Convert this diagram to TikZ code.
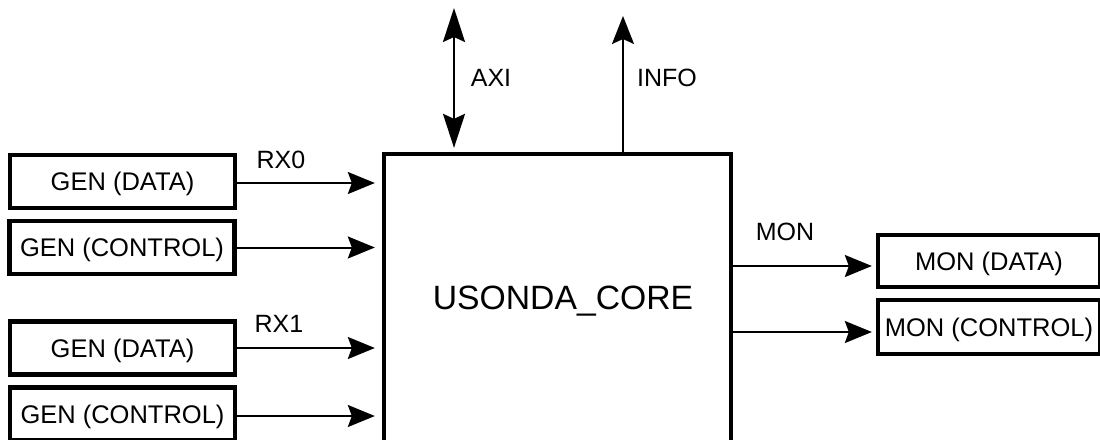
\documentclass[tikz,border=0pt]{standalone}
\usepackage{fontspec}
\setmainfont{Liberation Sans}
\usetikzlibrary{arrows.meta}
\begin{document}
\begin{tikzpicture}[x=1pt,y=-1pt,
  blk/.style={draw, line width=4.3pt, inner sep=0pt,
    font=\fontsize{25.5}{30}\selectfont, text height=18.3pt, text depth=0pt,
    minimum width=225pt, minimum height=53pt},
  corebox/.style={draw, line width=4.3pt, inner sep=0pt,
    minimum width=347pt, minimum height=291pt},
  lbl/.style={font=\fontsize{25}{30}\selectfont, text height=17.9pt, text depth=0pt, inner sep=0pt},
  corelbl/.style={font=\fontsize{33.7}{40}\selectfont, text height=24.1pt, text depth=0pt, inner sep=0pt},
  arr/.style={line width=2pt, -{Stealth[length=27pt,width=22pt,inset=4pt]}},
  uparr/.style={line width=2pt, -{Stealth[length=28pt,width=22pt,inset=5pt]}},
  dblarr/.style={line width=2.2pt, {Stealth[length=34pt,width=22pt,inset=5pt]}-{Stealth[length=34pt,width=22pt,inset=5pt]}}
]
\useasboundingbox (0,0) rectangle (1100,439);
\fill[white] (0,0) rectangle (1100,439);

% left generator boxes
\node[blk] (g1) at (122.5,181.5) {GEN (DATA)};
\node[blk] (g2) at (122,247.5) {GEN (CONTROL)};
\node[blk] (g3) at (122.5,348) {GEN (DATA)};
\node[blk] (g4) at (122.5,414) {GEN (CONTROL)};

% core
\node[corebox] (core) at (557.5,299.5) {};
\node[corelbl] (coretext) at (563,297.5) {USONDA\_CORE};

% monitor boxes
\node[blk, minimum width=222pt, minimum height=52pt] (m1) at (989,261) {MON (DATA)};
\node[blk, minimum width=222pt, minimum height=54pt] (m2) at (989,327) {MON (CONTROL)};

% input arrows
\draw[arr, shorten >=7pt] ([yshift=-1.5pt]g1.east) -- ([yshift=-1.5pt]g1.east -| core.west);
\draw[arr, shorten >=7pt] (g2.east) -- (g2.east -| core.west);
\draw[arr, shorten >=7pt] (g3.east) -- (g3.east -| core.west);
\draw[arr, shorten >=7pt] ([yshift=-2pt]g4.east) -- ([yshift=-2pt]g4.east -| core.west);

% output arrows
\draw[arr, shorten >=4pt] ([yshift=-5pt]m1.west -| core.east) -- ([yshift=-5pt]m1.west);
\draw[arr, shorten >=4pt] ([yshift=-5pt]m2.west -| core.east) -- ([yshift=-5pt]m2.west);

% top arrows
\coordinate (axitop) at (454,8);
\coordinate (infotop) at (623,16);
\draw[dblarr, shorten >=4pt] (axitop) -- (axitop |- core.north);
\draw[uparr] (infotop |- core.north) -- (infotop);

% labels
\node[lbl] (rx0) at (281,159.5) {RX0};
\node[lbl] (rx1) at (279,323.5) {RX1};
\node[lbl] (axi) at (491,77.5) {AXI};
\node[lbl] (info) at (667,77.5) {INFO};
\node[lbl] (mon) at (785,232) {MON};
\end{tikzpicture}
\end{document}
